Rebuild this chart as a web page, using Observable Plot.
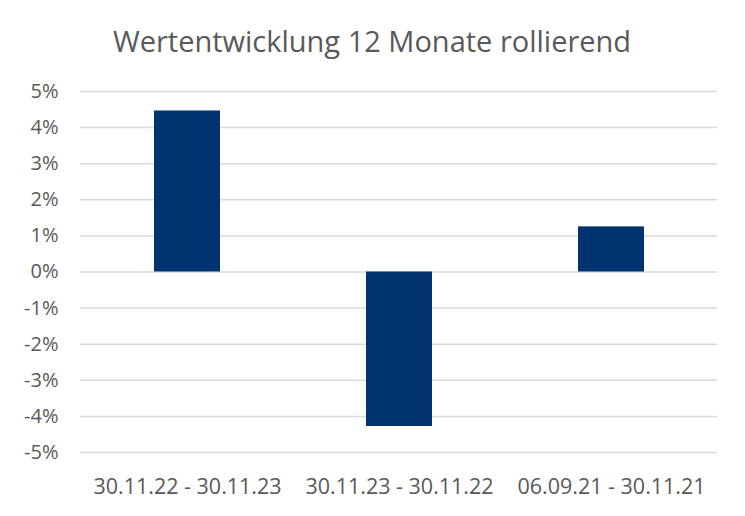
<!DOCTYPE html>
<html>
<head>
<meta charset="utf-8">
<script src="https://cdn.jsdelivr.net/npm/d3@7"></script>
<script src="https://cdn.jsdelivr.net/npm/@observablehq/plot@0.6"></script>
<style>
  html, body { margin: 0; padding: 0; background: #fff; }
  #wrap { width: 745px; height: 516px; position: relative; overflow: hidden; }
  #title { height: 70px; width: 745px; position: relative; font-family: "Open Sans", sans-serif; font-size: 29px; color: #595959; }
  #title span { position: absolute; left: 372px; top: 26px; transform: translateX(-50%); white-space: nowrap; line-height: 1; }
  svg { display: block; }
</style>
</head>
<body>
<div id="wrap">
  <div id="title"><span>Wertentwicklung 12 Monate rollierend</span></div>
  <div id="chart"></div>
</div>
<script>
const categories = ["30.11.22 - 30.11.23", "30.11.23 - 30.11.22", "06.09.21 - 30.11.21"];
const values = [4.46, -4.28, 1.25];
const yTicks = [5, 4, 3, 2, 1, 0, -1, -2, -3, -4, -5];

const data = categories.map((c, i) => ({cat: c, val: values[i]}));

const chart = Plot.plot({
  width: 745,
  height: 446,
  marginLeft: 80,
  marginRight: 28,
  marginTop: 21,
  marginBottom: 64,
  style: {fontFamily: "'Open Sans', sans-serif", fontSize: "20px", color: "#595959", background: "#fff"},
  x: {domain: categories, paddingInner: 0.69, paddingOuter: 0.345, label: null},
  y: {domain: [-5, 5], label: null},
  marks: [
    Plot.gridY(yTicks, {stroke: "#d9d9d9", strokeOpacity: 1, strokeWidth: 1.5}),
    Plot.axisY(yTicks, {tickSize: 0, tickPadding: 22, tickFormat: d => `${d}%`, label: null, fontSize: 20}),
    Plot.axisX({tickSize: 0, tickPadding: 26, label: null, fontSize: 21.5}),
    Plot.barY(data, {x: "cat", y: "val", fill: "#003370"})
  ]
});
document.getElementById("chart").appendChild(chart);
</script>
</body>
</html>
